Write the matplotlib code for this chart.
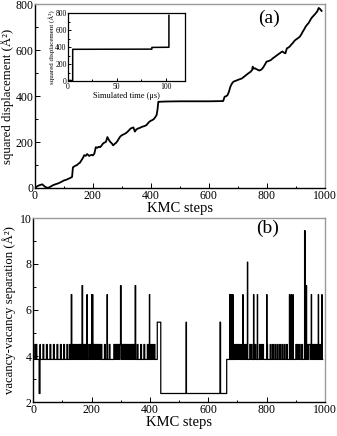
import numpy as np
import matplotlib
matplotlib.use('Agg')
import matplotlib.pyplot as plt
from matplotlib.ticker import MultipleLocator
from matplotlib.transforms import IdentityTransform

plt.rcParams['font.family'] = ['Liberation Serif', 'DejaVu Serif']

# ---------------- panel (a): squared displacement vs KMC steps ----------------
disp_steps = [0, 8, 15, 25, 35, 45, 55, 62, 70, 80, 90, 100, 108, 115, 122, 128, 131, 138, 145, 150,
              155, 160, 165, 170, 175, 180, 187, 195, 200, 205, 210, 215, 220, 225, 230, 235, 240, 245,
              250, 255, 260, 265, 270, 275, 280, 285, 290, 295, 300, 308, 315, 322, 330, 335, 340, 345,
              350, 355, 362, 370, 378, 385, 390, 395, 400, 405, 410, 415, 420, 423, 426, 430, 450, 500,
              550, 600, 640, 650, 655, 660, 665, 670, 675, 680, 685, 690, 695, 700, 707, 715, 722, 730,
              737, 745, 750, 752, 756, 760, 765, 770, 775, 780, 785, 790, 795, 800, 808, 815, 822, 830,
              837, 845, 850, 855, 860, 865, 870, 875, 880, 885, 890, 895, 900, 907, 915, 920, 925, 930,
              935, 940, 945, 950, 955, 960, 965, 970, 975, 980, 985, 990]
disp_vals = [0, 8, 12, 16, 5, 0, 7, 12, 16, 20, 26, 33, 36, 40, 44, 48, 90, 96, 100, 106,
             110, 120, 130, 143, 140, 148, 140, 145, 142, 150, 178, 175, 180, 178, 185, 194, 198, 201,
             222, 210, 201, 195, 186, 192, 197, 205, 216, 225, 230, 235, 240, 248, 259, 262, 264, 246,
             255, 259, 262, 267, 270, 274, 282, 289, 293, 296, 300, 308, 318, 340, 376, 376, 377, 378,
             378, 378, 379, 379, 398, 400, 405, 420, 442, 455, 463, 466, 468, 471, 474, 478, 485, 493,
             500, 507, 515, 529, 520, 522, 518, 515, 512, 515, 520, 529, 540, 551, 554, 558, 566, 573,
             580, 587, 592, 595, 590, 587, 609, 612, 617, 625, 631, 640, 646, 652, 660, 670, 682, 692,
             704, 712, 719, 730, 741, 748, 755, 762, 770, 785, 780, 772]

# inset: squared displacement vs simulated time (us)
inset_time = [0, 1, 2, 3, 4.8, 4.8, 86, 86, 103.5, 103.5]
inset_disp = [0, 8, 15, 10, 12, 376, 378, 398, 400, 772]

# ---------------- panel (b): vacancy-vacancy separation ----------------
n_steps = 993
level_base = 3.85
level_up = 4.50
level_low = 2.37
level_mid = 5.47
# steps where separation briefly rises to level_up
osc_steps = [5, 9, 21, 33, 45, 57, 69, 81, 93, 104, 115, 124, 136, 141, 146, 152, 157, 162, 170,
             175, 180, 190, 194, 198, 206, 210, 214, 218, 222, 227, 232, 244, 260, 276, 280, 284,
             288, 292, 296, 304, 308, 312, 316, 320, 325, 330, 335, 340, 344, 356, 368, 379, 391,
             402, 408, 414,
             690, 695, 700, 705, 712, 722, 727, 742, 747, 760, 775, 780, 786, 800, 812, 820, 828,
             836, 844, 852, 860, 868, 900, 905, 912, 920, 940, 945, 948, 958, 962, 966, 972, 982]
# (step, value, duration) spikes
spike_steps = [130, 167, 184, 200, 203, 253, 299, 349, 398, 524, 640, 673, 676, 680, 684, 718,
               734, 755, 768, 800, 878, 884, 890, 930, 934, 953, 977, 989]
spike_vals = [6.67, 7.06, 6.67, 6.67, 6.67, 6.67, 7.06, 7.06, 6.67, 5.47, 5.47, 6.67, 6.67, 6.67,
              6.67, 6.67, 8.08, 6.67, 6.67, 6.67, 6.67, 6.67, 6.67, 9.45, 7.06, 6.67, 6.67, 6.67]
spike_dur = [2, 2, 1, 1, 1, 1, 2, 2, 1, 1, 2, 1, 1, 1, 1, 1, 1, 1, 1, 1, 1, 1, 1, 2, 3, 1, 1, 1]
# plateaus (start, end, value)
plateau_start = [20, 425, 437]
plateau_end = [23, 437, 663]
plateau_vals = [level_low, level_mid, level_low]

sep = np.full(n_steps, level_base)
for s in osc_steps:
    sep[s:s + 3] = level_up
for a, b, v in zip(plateau_start, plateau_end, plateau_vals):
    sep[a:b] = v
for s, v, d in zip(spike_steps, spike_vals, spike_dur):
    sep[s:s + d] = v
sep_steps = np.arange(n_steps)

# ---------------- figure ----------------
W, H = 337, 436
fig = plt.figure(figsize=(W / 100, H / 100), dpi=100)

def frac(l, t, r, b):
    return [l / W, (H - b) / H, (r - l) / W, (b - t) / H]

def style(ax, fs, major_len=3.5, minor_len=1.8, pad=1.2):
    ax.tick_params(which='both', direction='in', top=False, right=False, labelsize=fs,
                   width=0.7, pad=pad)
    ax.tick_params(which='major', length=major_len)
    ax.tick_params(which='minor', length=minor_len)
    for side in ['top', 'right']:
        ax.spines[side].set_color('#9a9a9a')
    for side in ['left', 'bottom']:
        ax.spines[side].set_color('black')
    for sp in ax.spines.values():
        sp.set_linewidth(1.0)

ax1 = fig.add_axes(frac(35, 4.5, 324.5, 188))
ax1.plot(disp_steps, disp_vals, color='black', lw=1.3)
ax1.set_xlim(0, 1000)
ax1.set_ylim(0, 800)
ax1.xaxis.set_major_locator(MultipleLocator(200))
ax1.xaxis.set_minor_locator(MultipleLocator(100))
ax1.yaxis.set_major_locator(MultipleLocator(200))
ax1.yaxis.set_minor_locator(MultipleLocator(100))
style(ax1, 8.5)
ax1.set_xlabel('KMC steps', fontsize=10.5, labelpad=0)
ax1.set_ylabel('squared displacement (Å²)', fontsize=9.2, va='center')
ax1.yaxis.set_label_coords((7.5 - 35) / 289.5, 0.5)
ax1.text(269, H - 18, '(a)', transform=IdentityTransform(), fontsize=14,
         ha='center', va='center')

axi = fig.add_axes(frac(68, 13, 185, 81.5))
axi.plot(inset_time, inset_disp, color='black', lw=1.1)
axi.set_xlim(0, 120)
axi.set_ylim(0, 800)
axi.xaxis.set_major_locator(MultipleLocator(50))
axi.xaxis.set_minor_locator(MultipleLocator(25))
axi.yaxis.set_major_locator(MultipleLocator(200))
axi.yaxis.set_minor_locator(MultipleLocator(100))
style(axi, 5.5, 2.5, 1.3, pad=1)
for sp in axi.spines.values():
    sp.set_color('black')
    sp.set_linewidth(0.9)
axi.set_xlabel('Simulated time (μs)', fontsize=6, labelpad=0.5)
axi.set_ylabel('squared displacement (Å²)', fontsize=5, labelpad=0.5)

ax2 = fig.add_axes(frac(33.3, 218, 325, 402))
ax2.plot(sep_steps, sep, color='black', lw=0.9, drawstyle='steps-post')
ax2.set_xlim(0, 1000)
ax2.set_ylim(2, 10)
ax2.xaxis.set_major_locator(MultipleLocator(200))
ax2.xaxis.set_minor_locator(MultipleLocator(100))
ax2.yaxis.set_major_locator(MultipleLocator(2))
ax2.yaxis.set_minor_locator(MultipleLocator(1))
style(ax2, 8.5)
ax2.set_xlabel('KMC steps', fontsize=10.5, labelpad=0)
ax2.set_ylabel('vacancy-vacancy separation (Å²)', fontsize=9.2, va='center')
ax2.yaxis.set_label_coords((9 - 33.3) / 291.7, 0.5)
ax2.text(268, H - 228.5, '(b)', transform=IdentityTransform(),
         fontsize=14, ha='center', va='center')

fig.savefig('out.png', dpi=100)
